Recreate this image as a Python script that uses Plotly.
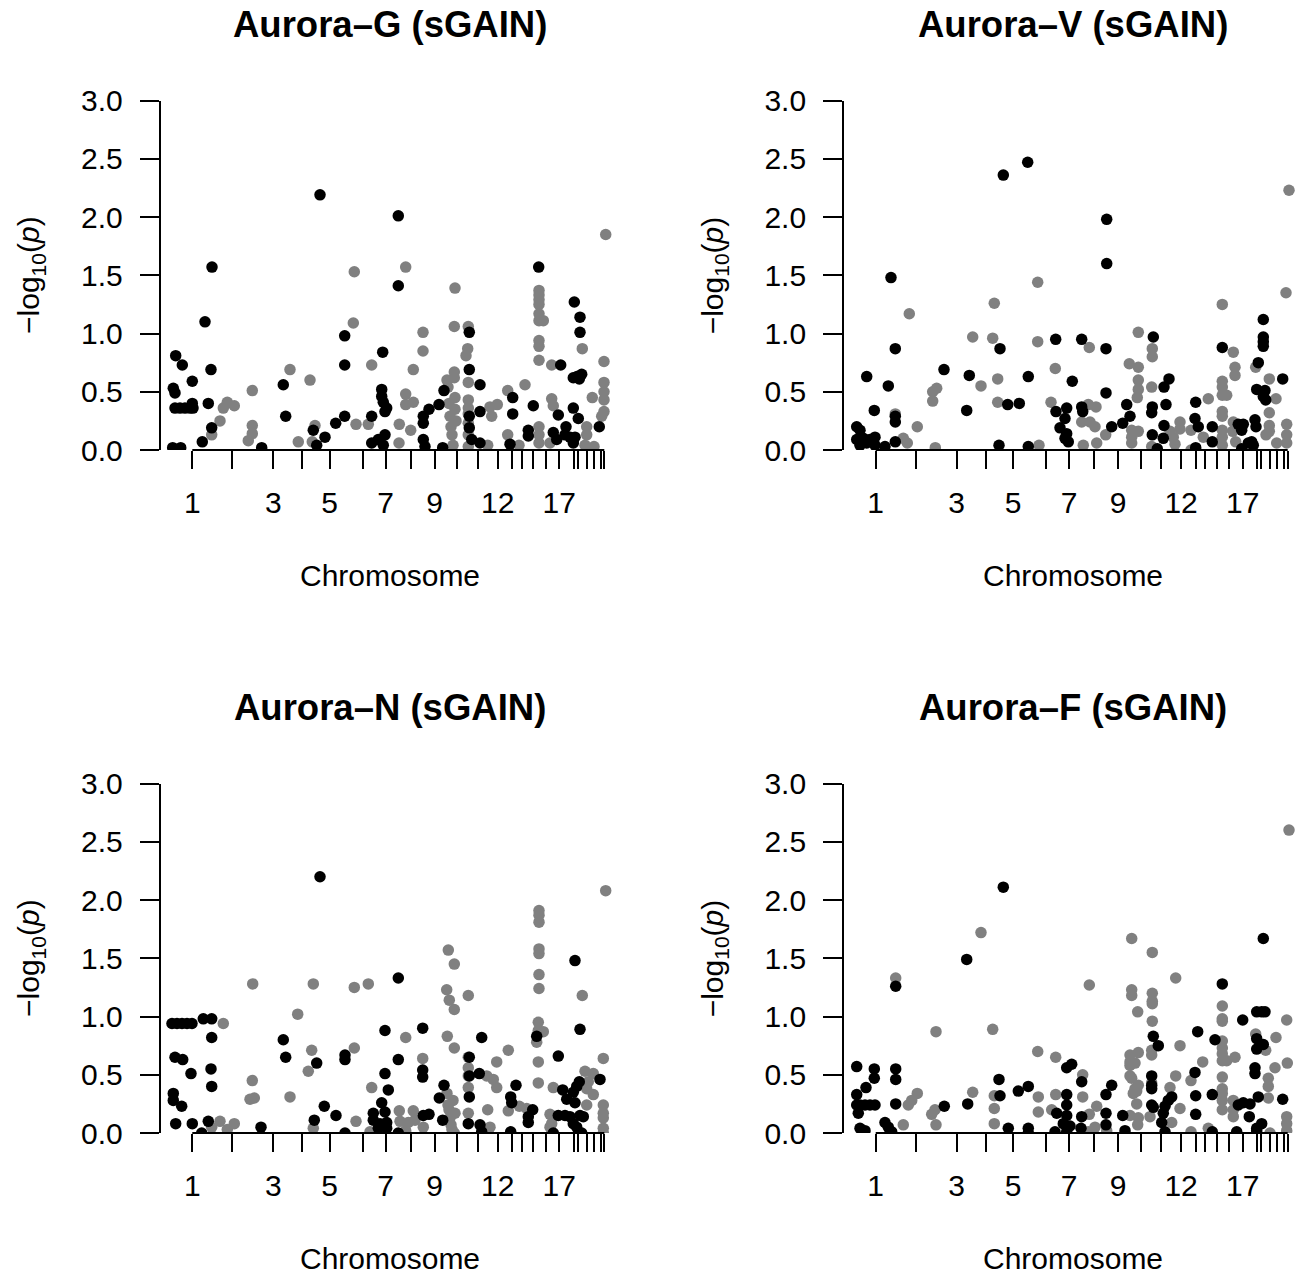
import plotly.graph_objects as go

# ---- chromosome axis (cumulative position units) ----
CHROM_CENTERS = [31.6, 71.6, 112.6, 141.6, 169.0, 202.0, 225.0, 250.0, 274.0, 296.6,
                 317.0, 337.0, 351.6, 361.3, 372.6, 385.3, 398.6, 413.3, 417.0, 426.0,
                 433.3, 440.3, 443.6]
CHROM_LABELS = ["1", "", "3", "", "5", "", "7", "", "9", "", "", "12", "", "", "", "",
                "17", "", "", "", "", "", ""]
Y_TICKS = [0.0, 0.5, 1.0, 1.5, 2.0, 2.5, 3.0]
Y_TICK_TEXT = ["0.0", "0.5", "1.0", "1.5", "2.0", "2.5", "3.0"]

# ---- Aurora-G ----
G_odd_pos = [159.3, 237.6, 51.3, 378.0, 237.6, 413.6, 419.3, 419.3, 44.3, 184.0, 184.0, 308.6,
             308.6, 319.3, 15.0, 21.6, 31.6, 50.3, 12.6, 14.3, 14.3, 19.3, 24.3, 29.3, 32.3,
             31.6, 47.6, 51.0, 41.6, 12.0, 20.0, 101.0, 122.6, 125.0, 152.6, 156.0, 164.3,
             175.0, 184.0, 211.0, 222.0, 221.0, 221.0, 222.6, 226.0, 224.3, 211.0, 217.6,
             224.3, 222.6, 262.6, 262.6, 268.3, 262.6, 264.3, 278.3, 282.0, 283.3, 308.6,
             308.6, 311.0, 319.3, 319.3, 352.0, 352.0, 349.3, 367.6, 367.6, 372.6, 400.0,
             397.6, 392.6, 396.0, 405.3, 404.3, 409.3, 412.6, 416.3, 418.6, 421.0, 412.6,
             417.6, 412.6, 414.3, 438.6]
G_odd_logp = [2.19, 2.01, 1.57, 1.57, 1.41, 1.27, 1.14, 1.01, 1.10, 0.98, 0.73, 1.01,
              0.69, 0.56, 0.81, 0.73, 0.59, 0.69, 0.53, 0.49, 0.36, 0.36, 0.36, 0.36, 0.36,
              0.40, 0.40, 0.19, 0.07, 0.02, 0.02, 0.02, 0.56, 0.29, 0.17, 0.04, 0.11,
              0.23, 0.29, 0.29, 0.84, 0.52, 0.46, 0.41, 0.36, 0.33, 0.06, 0.09,
              0.13, 0.04, 0.29, 0.23, 0.35, 0.09, 0.03, 0.39, 0.02, 0.51, 0.29,
              0.19, 0.09, 0.33, 0.06, 0.45, 0.31, 0.05, 0.17, 0.12, 0.38, 0.73,
              0.30, 0.15, 0.09, 0.20, 0.13, 0.11, 0.36, 0.63, 0.61, 0.65, 0.62,
              0.27, 0.06, 0.11, 0.20]
G_even_pos = [193.6, 245.0, 445.0, 294.3, 378.3, 378.3, 378.3, 378.3, 378.3, 378.3, 382.6,
              378.3, 378.3, 378.3, 421.6, 192.6, 262.3, 262.3, 252.6, 293.6, 307.6, 307.0,
              305.3, 307.6, 51.0, 59.3, 62.6, 66.6, 73.6, 91.6, 91.6, 91.6, 87.6, 129.3,
              137.6, 149.3, 154.3, 151.6, 195.3, 207.6, 211.0, 238.3, 238.6, 245.0, 245.0,
              252.6, 250.0, 286.3, 287.3, 288.3, 289.3, 290.3, 291.3, 292.3, 293.6, 293.6,
              294.3, 294.3, 295.3, 307.6, 307.6, 307.6, 307.6, 307.6, 307.6, 327.0, 329.3,
              331.0, 336.6, 347.0, 347.0, 358.3, 364.3, 378.3, 378.3, 378.3, 391.0, 391.0,
              392.6, 389.3, 426.0, 426.0, 424.3, 431.6, 433.3, 443.3, 443.3, 443.3, 443.3,
              443.3, 441.0]
G_even_logp = [1.53, 1.57, 1.85, 1.39, 1.37, 1.33, 1.29, 1.25, 1.17, 1.11, 1.11,
               0.94, 0.89, 0.77, 0.87, 1.09, 1.01, 0.85, 0.69, 1.06, 1.06, 0.87,
               0.81, 0.58, 0.13, 0.25, 0.36, 0.41, 0.38, 0.51, 0.21, 0.14, 0.08, 0.69,
               0.07, 0.60, 0.21, 0.07, 0.22, 0.22, 0.73, 0.06, 0.22, 0.48, 0.39,
               0.41, 0.17, 0.60, 0.54, 0.40, 0.29, 0.20, 0.13, 0.04, 0.67, 0.62,
               0.45, 0.35, 0.25, 0.43, 0.36, 0.31, 0.23, 0.13, 0.03, 0.04, 0.37,
               0.29, 0.39, 0.51, 0.13, 0.04, 0.56, 0.20, 0.13, 0.06, 0.73, 0.44,
               0.38, 0.06, 0.20, 0.13, 0.04, 0.45, 0.03, 0.76, 0.58, 0.50, 0.43,
               0.33, 0.29]

# ---- Aurora-V ----
V_odd_pos = [159.2, 183.6, 262.6, 262.6, 46.9, 419.2, 211.6, 237.6, 309.2, 419.2, 419.2, 419.2,
             51.2, 155.9, 261.9, 378.2, 99.9, 22.6, 125.2, 184.2, 324.9, 319.9, 414.2, 412.6,
             420.9, 419.2, 421.6, 438.6, 228.2, 44.2, 261.9, 30.2, 122.6, 163.6, 175.2, 211.9,
             222.6, 220.9, 215.9, 222.6, 224.2, 220.9, 237.6, 238.6, 267.6, 282.6, 285.9,
             278.6, 308.2, 307.6, 308.2, 313.2, 321.9, 319.9, 319.2, 351.6, 350.9, 354.2,
             351.6, 368.2, 368.2, 394.2, 399.2, 397.6, 397.6, 404.2, 407.6, 409.2, 411.9,
             410.9, 12.6, 15.9, 12.6, 19.2, 15.9, 25.9, 30.9, 30.9, 22.6, 40.9, 51.2, 51.2,
             51.2, 154.9, 184.2]
V_odd_logp = [2.36, 2.47, 1.98, 1.60, 1.48, 1.12, 0.95, 0.95, 0.97, 0.97, 0.93, 0.89,
              0.87, 0.87, 0.87, 0.88, 0.69, 0.63, 0.64, 0.63, 0.61, 0.54, 0.75, 0.52,
              0.51, 0.46, 0.43, 0.61, 0.59, 0.55, 0.49, 0.34, 0.34, 0.39, 0.40, 0.33,
              0.36, 0.27, 0.19, 0.14, 0.07, 0.10, 0.37, 0.33, 0.20, 0.39, 0.29,
              0.23, 0.37, 0.32, 0.13, 0.01, 0.39, 0.21, 0.10, 0.41, 0.27, 0.20,
              0.02, 0.20, 0.07, 0.22, 0.22, 0.17, 0.01, 0.06, 0.07, 0.04, 0.20,
              0.26, 0.20, 0.17, 0.09, 0.10, 0.04, 0.09, 0.11, 0.04, 0.06, 0.03, 0.24, 0.29,
              0.07, 0.04, 0.03]
V_even_pos = [444.9, 193.6, 150.2, 378.2, 441.9, 65.2, 128.6, 148.6, 193.6, 294.2, 245.2, 389.2,
              308.2, 308.2, 211.2, 153.6, 285.2, 294.2, 294.2, 294.2, 293.2, 390.9, 390.9,
              411.6, 425.2, 431.9, 136.9, 88.6, 88.6, 92.6, 307.6, 153.6, 206.9, 244.2, 251.9,
              237.6, 245.9, 250.9, 239.2, 252.6, 261.6, 287.6, 287.6, 287.6, 294.2, 307.6,
              325.9, 329.2, 330.9, 335.9, 335.9, 346.9, 346.9, 359.2, 364.2, 378.2, 378.2,
              378.2, 378.2, 378.2, 378.2, 378.2, 378.2, 382.6, 389.2, 391.6, 388.6, 425.2,
              425.2, 425.2, 421.9, 432.6, 442.6, 442.6, 442.6, 51.2, 59.2, 63.2, 73.2, 91.2,
              194.9]
V_even_logp = [2.23, 1.44, 1.26, 1.25, 1.35, 1.17, 0.97, 0.96, 0.93, 1.01, 0.88, 0.84,
               0.87, 0.80, 0.70, 0.61, 0.74, 0.71, 0.60, 0.52, 0.45, 0.71, 0.64,
               0.71, 0.61, 0.44, 0.55, 0.50, 0.42, 0.53, 0.54, 0.41, 0.41, 0.39, 0.37,
               0.24, 0.24, 0.20, 0.04, 0.06, 0.13, 0.17, 0.11, 0.06, 0.16, 0.03,
               0.16, 0.11, 0.05, 0.24, 0.18, 0.17, 0.00, 0.11, 0.44, 0.59, 0.54,
               0.47, 0.33, 0.29, 0.17, 0.11, 0.04, 0.47, 0.24, 0.07, 0.16, 0.32,
               0.21, 0.16, 0.13, 0.06, 0.22, 0.13, 0.06, 0.31, 0.10, 0.06, 0.20, 0.02,
               0.04]

# ---- Aurora-N ----
N_odd_pos = [159.3, 414.3, 237.6, 11.3, 16.3, 21.3, 26.3, 31.3, 42.6, 51.0, 51.0, 122.6, 125.0,
             224.3, 262.0, 321.0, 376.0, 419.3, 156.0, 184.3, 184.3, 14.3, 22.0, 30.3, 50.3,
             51.0, 12.6, 12.6, 21.0, 15.0, 31.6, 41.0, 47.6, 100.3, 153.6, 163.6, 175.3,
             184.3, 224.3, 227.6, 237.6, 221.0, 212.6, 224.3, 212.6, 219.3, 226.0, 217.6,
             226.0, 237.6, 262.0, 262.0, 262.6, 268.3, 278.6, 283.3, 282.0, 308.6, 308.6,
             308.6, 307.6, 319.3, 321.0, 318.6, 355.3, 350.0, 351.0, 350.0, 372.0, 367.6,
             367.6, 397.6, 402.0, 406.0, 412.6, 397.6, 404.3, 392.6, 418.6, 416.0, 414.3,
             419.3, 412.6, 416.0, 421.0, 422.6, 409.3, 439.3]
N_odd_logp = [2.20, 1.48, 1.33, 0.94, 0.94, 0.94, 0.94, 0.94, 0.98, 0.98, 0.82, 0.80, 0.65,
              0.88, 0.90, 0.82, 0.83, 0.89, 0.60, 0.67, 0.63, 0.65, 0.63, 0.51, 0.55,
              0.40, 0.34, 0.28, 0.23, 0.08, 0.08, 0.00, 0.10, 0.05, 0.11, 0.23, 0.15,
              0.00, 0.51, 0.37, 0.63, 0.26, 0.17, 0.18, 0.11, 0.08, 0.09, 0.04,
              0.04, 0.00, 0.54, 0.48, 0.15, 0.16, 0.30, 0.41, 0.11, 0.65, 0.49,
              0.31, 0.08, 0.07, 0.01, 0.51, 0.41, 0.31, 0.26, 0.01, 0.20, 0.14,
              0.09, 0.66, 0.37, 0.29, 0.35, 0.15, 0.15, 0.00, 0.44, 0.40, 0.26,
              0.15, 0.08, 0.05, 0.00, 0.14, 0.14, 0.46]
N_even_pos = [445.0, 378.3, 378.3, 378.3, 378.3, 378.3, 378.3, 378.3, 287.6, 293.6, 92.0, 152.6,
              193.6, 207.6, 286.0, 288.6, 293.6, 307.6, 421.6, 137.0, 62.6, 245.0, 286.6,
              377.6, 377.6, 377.6, 382.6, 376.0, 151.0, 147.6, 193.6, 51.0, 59.3, 66.6, 73.6,
              91.6, 89.3, 93.6, 129.3, 152.6, 195.3, 211.0, 209.3, 238.6, 239.3, 245.0,
              252.6, 247.6, 254.3, 262.0, 262.6, 286.3, 287.3, 288.3, 289.3, 290.3, 291.3,
              293.6, 293.6, 294.3, 292.3, 307.6, 307.6, 307.6, 307.6, 307.6, 326.0, 332.6,
              336.0, 336.0, 327.0, 329.3, 347.6, 347.6, 358.6, 366.0, 377.6, 377.6, 392.6,
              389.3, 391.0, 389.3, 424.3, 432.6, 427.6, 426.0, 432.6, 426.0, 442.6, 442.6,
              442.6, 442.6, 442.6, 442.6]
N_even_logp = [2.08, 1.91, 1.87, 1.81, 1.58, 1.54, 1.36, 1.24, 1.57, 1.45, 1.28, 1.28,
               1.25, 1.28, 1.23, 1.14, 1.06, 1.18, 1.18, 1.02, 0.94, 0.82, 0.83,
               0.95, 0.88, 0.86, 0.87, 0.78, 0.71, 0.53, 0.73, 0.05, 0.10, 0.03, 0.08,
               0.45, 0.29, 0.30, 0.31, 0.04, 0.10, 0.39, 0.01, 0.19, 0.10, 0.02,
               0.19, 0.09, 0.11, 0.64, 0.05, 0.34, 0.24, 0.20, 0.13, 0.07, 0.03,
               0.00, 0.73, 0.17, 0.28, 0.65, 0.56, 0.49, 0.39, 0.17, 0.49, 0.46,
               0.61, 0.39, 0.20, 0.05, 0.71, 0.19, 0.23, 0.21, 0.61, 0.43, 0.39,
               0.16, 0.08, 0.05, 0.53, 0.51, 0.44, 0.38, 0.33, 0.24, 0.64, 0.24,
               0.17, 0.13, 0.04, 0.00]

# ---- Aurora-F ----
F_odd_pos = [159.2, 122.6, 419.2, 51.6, 378.2, 398.6, 412.6, 417.6, 420.9, 353.6, 309.2, 314.2,
             370.9, 412.6, 412.6, 419.2, 222.6, 227.6, 410.9, 410.9, 12.6, 30.2, 30.2, 51.6,
             51.6, 21.9, 12.6, 12.6, 15.9, 20.9, 25.9, 30.9, 14.2, 15.9, 20.9, 51.6, 40.9,
             44.2, 47.6, 100.2, 123.6, 154.9, 155.9, 164.2, 174.2, 184.2, 184.2, 184.2,
             222.6, 222.6, 212.6, 222.6, 219.2, 225.9, 210.9, 222.6, 237.6, 237.6, 236.9,
             261.9, 261.9, 261.9, 267.6, 278.6, 280.9, 307.6, 307.6, 307.6, 307.6, 309.2,
             319.2, 320.9, 324.2, 327.6, 317.6, 320.9, 350.9, 351.6, 351.6, 368.2, 368.2,
             392.6, 399.2, 405.9, 394.2, 405.2, 412.6, 417.6, 414.2, 412.6, 438.6]
F_odd_logp = [2.11, 1.49, 1.67, 1.26, 1.28, 0.97, 1.04, 1.04, 1.04, 0.87, 0.83, 0.75,
              0.80, 0.81, 0.72, 0.76, 0.56, 0.59, 0.56, 0.51, 0.57, 0.55, 0.47, 0.55,
              0.46, 0.39, 0.33, 0.24, 0.24, 0.24, 0.24, 0.24, 0.17, 0.04, 0.02, 0.25, 0.09,
              0.05, 0.01, 0.23, 0.25, 0.46, 0.32, 0.04, 0.36, 0.40, 0.04, 0.00,
              0.33, 0.24, 0.17, 0.15, 0.08, 0.06, 0.01, 0.01, 0.44, 0.14, 0.04,
              0.33, 0.17, 0.07, 0.41, 0.15, 0.02, 0.49, 0.41, 0.38, 0.24, 0.22,
              0.17, 0.23, 0.28, 0.31, 0.09, 0.01, 0.52, 0.32, 0.16, 0.33, 0.01,
              0.01, 0.26, 0.25, 0.24, 0.14, 0.04, 0.08, 0.31, 0.02, 0.29]
F_even_pos = [444.9, 136.9, 287.6, 308.2, 51.6, 245.2, 331.6, 287.6, 287.6, 308.2, 308.2, 308.2,
              308.2, 293.6, 378.2, 378.2, 378.2, 378.2, 378.2, 378.2, 378.2, 378.2, 378.2,
              378.2, 378.2, 378.2, 442.6, 91.9, 148.6, 307.6, 335.9, 382.6, 390.9, 411.6,
              421.6, 431.9, 193.6, 211.6, 285.9, 285.9, 285.9, 290.9, 294.2, 307.6, 358.6,
              430.9, 443.2, 59.2, 64.2, 67.6, 73.2, 87.6, 90.9, 91.9, 128.6, 150.2, 150.2,
              150.2, 194.2, 194.2, 207.6, 211.6, 238.6, 238.6, 245.2, 252.6, 250.9, 244.2,
              262.6, 285.9, 285.9, 287.6, 294.2, 290.9, 292.6, 289.2, 292.6, 294.2, 293.6,
              305.9, 307.6, 325.9, 327.6, 331.6, 335.9, 346.9, 346.9, 364.2, 389.2, 389.2,
              389.2, 424.2, 424.2, 424.2, 425.9, 442.6, 442.6, 442.6]
F_even_logp = [2.60, 1.72, 1.67, 1.55, 1.33, 1.27, 1.33, 1.23, 1.18, 1.20, 1.13, 1.11,
               0.96, 1.04, 1.09, 0.98, 0.96, 0.79, 0.73, 0.68, 0.62, 0.48, 0.38,
               0.34, 0.28, 0.20, 0.97, 0.87, 0.89, 0.71, 0.75, 0.62, 0.65, 0.85,
               0.71, 0.82, 0.70, 0.65, 0.67, 0.61, 0.58, 0.60, 0.69, 0.67, 0.61,
               0.56, 0.60, 0.07, 0.24, 0.28, 0.34, 0.16, 0.20, 0.07, 0.35, 0.32, 0.21,
               0.08, 0.31, 0.18, 0.20, 0.33, 0.50, 0.31, 0.16, 0.23, 0.05, 0.01,
               0.02, 0.15, 0.49, 0.47, 0.41, 0.38, 0.36, 0.34, 0.25, 0.13, 0.07,
               0.14, 0.43, 0.39, 0.09, 0.49, 0.21, 0.45, 0.01, 0.04, 0.28, 0.20,
               0.14, 0.47, 0.40, 0.30, 0.00, 0.14, 0.08, 0.02]

PANELS = [
    ("Aurora\u2013G (sGAIN)", G_odd_pos, G_odd_logp, G_even_pos, G_even_logp),
    ("Aurora\u2013V (sGAIN)", V_odd_pos, V_odd_logp, V_even_pos, V_even_logp),
    ("Aurora\u2013N (sGAIN)", N_odd_pos, N_odd_logp, N_even_pos, N_even_logp),
    ("Aurora\u2013F (sGAIN)", F_odd_pos, F_odd_logp, F_even_pos, F_even_logp),
]

# ---- page geometry (pixels) ----
W, H = 1296, 1277
COL_LEFT = [160.7, 844.1]          # left edge of each plotting region
REGION_W = 458.6                   # width of a full plotting region
ROW_TOP = [100.5, 783.5]           # y = 3.0
ROW_BOTTOM = [450.0, 1133.0]       # y = 0.0

FONT = "Liberation Sans, Arial, Helvetica, sans-serif"
BLACK = "#000000"
GREY = "#808080"

fig = go.Figure()
shapes = []
annotations = []

for i, (title, op, ol, ep, el) in enumerate(PANELS):
    row, col = divmod(i, 2)
    n = i + 1
    xa = "x" if n == 1 else f"x{n}"
    ya = "y" if n == 1 else f"y{n}"

    left = COL_LEFT[col]
    right = min(left + REGION_W, W)
    x_range = [0.0, right - left]
    dom_x = [left / W, right / W]
    dom_y = [1 - ROW_BOTTOM[row] / H, 1 - ROW_TOP[row] / H]

    # even chromosomes (grey) then odd chromosomes (black)
    fig.add_trace(go.Scatter(x=ep, y=el, mode="markers", xaxis=xa, yaxis=ya,
                             marker=dict(size=11.5, color=GREY, line=dict(width=0)),
                             showlegend=False, hoverinfo="x+y"))
    fig.add_trace(go.Scatter(x=op, y=ol, mode="markers", xaxis=xa, yaxis=ya,
                             marker=dict(size=11.5, color=BLACK, line=dict(width=0)),
                             showlegend=False, hoverinfo="x+y"))

    xkey = "xaxis" if n == 1 else f"xaxis{n}"
    ykey = "yaxis" if n == 1 else f"yaxis{n}"
    fig.update_layout(**{
        xkey: dict(domain=dom_x, range=x_range, anchor=ya, showgrid=False, zeroline=False,
                   showline=False, automargin=False, tickmode="array",
                   tickvals=CHROM_CENTERS, ticktext=CHROM_LABELS, ticks="outside",
                   ticklen=18, tickwidth=2, tickcolor=BLACK, ticklabelstandoff=8,
                   tickfont=dict(family=FONT, size=30, color=BLACK), fixedrange=True),
        ykey: dict(domain=dom_y, range=[0, 3], anchor=xa, showgrid=False, zeroline=False,
                   showline=True, linecolor=BLACK, linewidth=2, automargin=False,
                   tickmode="array", tickvals=Y_TICKS, ticktext=Y_TICK_TEXT,
                   ticks="outside", ticklen=19, tickwidth=2, tickcolor=BLACK,
                   ticklabelstandoff=11,
                   tickfont=dict(family=FONT, size=30, color=BLACK), fixedrange=True),
    })

    # x axis line runs from the first to the last chromosome tick
    def to_paper(v):
        return dom_x[0] + (v - x_range[0]) / (x_range[1] - x_range[0]) * (dom_x[1] - dom_x[0])

    shapes.append(dict(type="line", xref="paper", yref="paper",
                       x0=to_paper(CHROM_CENTERS[0]), x1=to_paper(CHROM_CENTERS[-1]),
                       y0=dom_y[0], y1=dom_y[0], line=dict(color=BLACK, width=2)))

    cx = (left + left + REGION_W) / 2 / W
    annotations.append(dict(text=f"<b>{title}</b>", xref="paper", yref="paper",
                            x=cx, y=1 - (ROW_TOP[row] - 76) / H, xanchor="center",
                            yanchor="middle", showarrow=False,
                            font=dict(family=FONT, size=36.5, color=BLACK)))
    annotations.append(dict(text="Chromosome", xref="paper", yref="paper",
                            x=cx, y=1 - (ROW_BOTTOM[row] + 125) / H, xanchor="center",
                            yanchor="middle", showarrow=False,
                            font=dict(family=FONT, size=30, color=BLACK)))
    annotations.append(dict(text="\u2212log<sub>10</sub>(<i>p</i>)", xref="paper", yref="paper",
                            x=(left - 130) / W,
                            y=1 - (ROW_TOP[row] + ROW_BOTTOM[row]) / 2 / H,
                            xanchor="center", yanchor="middle", textangle=-90,
                            showarrow=False,
                            font=dict(family=FONT, size=30, color=BLACK)))

fig.update_layout(width=W, height=H, margin=dict(l=0, r=0, t=0, b=0, autoexpand=False),
                  paper_bgcolor="white", plot_bgcolor="white",
                  shapes=shapes, annotations=annotations, showlegend=False)

fig.write_html("out.html")
